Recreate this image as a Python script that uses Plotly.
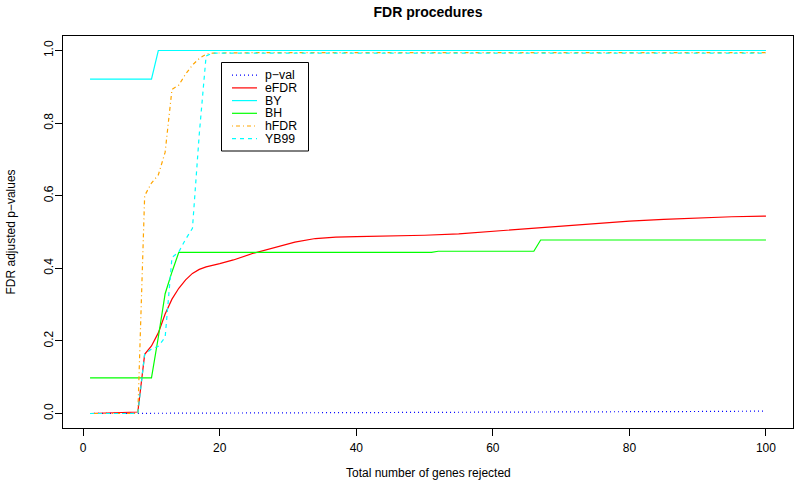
import plotly.graph_objects as go

# ---- data ----
pval_x = [1, 10, 20, 30, 40, 50, 60, 70, 80, 90, 100]
pval_y = [0.0, 0.0004, 0.0008, 0.0012, 0.0016, 0.0022, 0.003, 0.0038, 0.0046, 0.0055, 0.0065]

efdr_x = [1, 8, 9, 10, 11, 12, 13, 14, 15, 16, 17, 18, 20, 22, 25, 28, 31, 34, 37, 40,
          45, 50, 55, 60, 65, 70, 75, 80, 85, 90, 95, 100]
efdr_y = [0.0, 0.004, 0.163, 0.186, 0.222, 0.274, 0.315, 0.345, 0.368, 0.386, 0.397, 0.404,
          0.413, 0.423, 0.442, 0.458, 0.472, 0.482, 0.486, 0.487, 0.488, 0.491, 0.495, 0.502,
          0.510, 0.517, 0.524, 0.530, 0.535, 0.539, 0.542, 0.544]

by_x = [1, 10, 11, 100]
by_y = [0.921, 0.921, 1.0, 1.0]

bh_x = [1, 10, 11, 12, 13, 14, 51, 52, 66, 67, 100]
bh_y = [0.098, 0.098, 0.21, 0.33, 0.39, 0.444, 0.444, 0.447, 0.447, 0.478, 0.478]

hfdr_x = [1, 8, 9, 10, 11, 12, 13, 14, 15, 16, 17, 18, 19, 25, 100]
hfdr_y = [0.0, 0.0, 0.60, 0.635, 0.657, 0.72, 0.893, 0.905, 0.935, 0.96, 0.978, 0.99, 0.993,
          0.994, 0.994]

yb99_x = [1, 8, 9, 10, 11, 12, 13, 14, 15, 16, 17, 18, 19, 100]
yb99_y = [0.0, 0.0, 0.163, 0.178, 0.185, 0.21, 0.43, 0.445, 0.48, 0.51, 0.77, 0.985, 0.993,
          0.993]

series_names = ["p\u2212val", "eFDR", "BY", "BH", "hFDR", "YB99"]
series_colors = ["#0000FF", "#FF0000", "#00FFFF", "#00FF00", "#FFA500", "#00FFFF"]
series_dash = ["1px,3px", "solid", "solid", "solid", "1px,3px,4px,3px", "4px,4px"]

x_ticks = [0, 20, 40, 60, 80, 100]
y_ticks = [0.0, 0.2, 0.4, 0.6, 0.8, 1.0]
y_ticktext = ["0.0", "0.2", "0.4", "0.6", "0.8", "1.0"]

FONT = "Liberation Sans, Arial, sans-serif"
LW = 1.2

xs = [pval_x, efdr_x, by_x, bh_x, hfdr_x, yb99_x]
ys = [pval_y, efdr_y, by_y, bh_y, hfdr_y, yb99_y]

fig = go.Figure()
for name, x, y, c, d in zip(series_names, xs, ys, series_colors, series_dash):
    fig.add_trace(go.Scatter(x=x, y=y, mode="lines", name=name,
                             line=dict(color=c, width=LW, dash=d), showlegend=False))

# layout geometry (pixels)
W, H = 800, 483
L, R, T, B = 63, 7, 36, 55
pw, ph = W - L - R, H - T - B


def px_x(p):
    return (p - L) / pw


def px_y(p):
    return (H - B - p) / ph


shapes = []
annotations = []

# manual legend like R's legend()
shapes.append(dict(type="rect", xref="paper", yref="paper",
                   x0=px_x(221.5), x1=px_x(308.5), y0=px_y(151), y1=px_y(62.5),
                   line=dict(color="#000000", width=1), fillcolor="white", layer="above"))
row0, step = 75.2, 12.7
for i, (name, c, d) in enumerate(zip(series_names, series_colors, series_dash)):
    yy = row0 + i * step
    shapes.append(dict(type="line", xref="paper", yref="paper",
                       x0=px_x(232), x1=px_x(257), y0=px_y(yy), y1=px_y(yy),
                       line=dict(color=c, width=LW, dash=d), layer="above"))
    annotations.append(dict(xref="paper", yref="paper", x=px_x(264), y=px_y(yy),
                            xanchor="left", yanchor="middle", text=name, showarrow=False,
                            borderpad=0,
                            font=dict(family=FONT, size=12.3, color="#000000")))

# axis titles
annotations.append(dict(xref="paper", yref="paper", x=0.5, y=px_y(472.5),
                        xanchor="center", yanchor="middle", showarrow=False,
                        text="Total number of genes rejected",
                        font=dict(family=FONT, size=12, color="#000000")))
annotations.append(dict(xref="paper", yref="paper", x=px_x(10.5), y=0.5,
                        xanchor="center", yanchor="middle", showarrow=False, textangle=-90,
                        text="FDR adjusted p\u2212values",
                        font=dict(family=FONT, size=12, color="#000000")))

fig.update_layout(
    width=W, height=H,
    margin=dict(l=L, r=R, t=T, b=B, autoexpand=False),
    paper_bgcolor="white", plot_bgcolor="white",
    title=dict(text="<b>FDR procedures</b>", x=0.5, xref="paper", xanchor="center",
               y=1 - 12 / H, yref="container", yanchor="middle",
               font=dict(family=FONT, size=14, color="#000000")),
    font=dict(family=FONT, size=12, color="#000000"),
    shapes=shapes, annotations=annotations,
    xaxis=dict(range=[-2.96, 103.96], tickvals=x_ticks, ticks="outside", ticklen=7,
               tickcolor="#000000", showline=True, linecolor="#000000", linewidth=1,
               mirror=True, showgrid=False, zeroline=False, ticklabelstandoff=2,
               tickfont=dict(family=FONT, size=12, color="#000000")),
    yaxis=dict(range=[-0.04, 1.04], tickvals=y_ticks, ticktext=y_ticktext, ticks="outside",
               ticklen=7, tickcolor="#000000", showline=True, linecolor="#000000",
               linewidth=1, mirror=True, showgrid=False, zeroline=False, tickangle=-90,
               ticklabelstandoff=-3,
               tickfont=dict(family=FONT, size=12, color="#000000")),
)

fig.write_html("out.html", config={"displayModeBar": False},
               post_script="document.body.style.margin='0';document.body.style.padding='0';")
